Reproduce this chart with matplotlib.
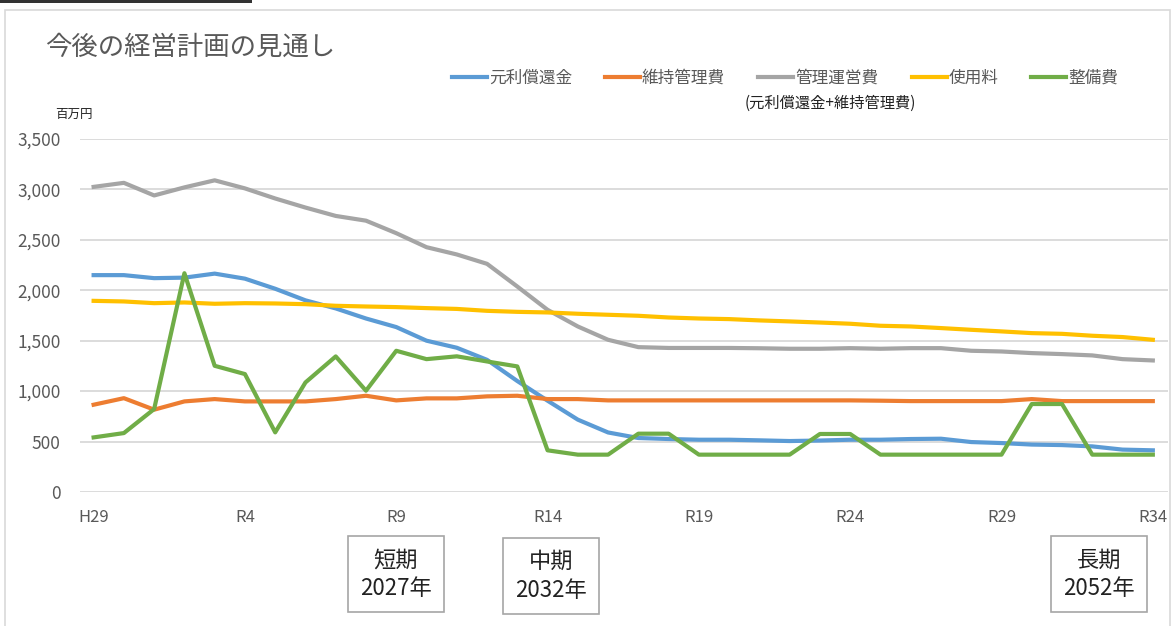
import matplotlib
matplotlib.use("Agg")
import matplotlib.pyplot as plt
from matplotlib.patches import Rectangle

plt.rcParams["font.family"] = ["Noto Sans CJK JP", "DejaVu Sans"]

# H29 (2017) .. R34 (2052)
years = list(range(2017, 2053))
tick_idx = [0, 5, 10, 15, 20, 25, 30, 35]
tick_labels = ["H29", "R4", "R9", "R14", "R19", "R24", "R29", "R34"]
y_ticks = [0, 500, 1000, 1500, 2000, 2500, 3000, 3500]
y_labels = ["0", "500", "1,000", "1,500", "2,000", "2,500", "3,000", "3,500"]

repay = [2150, 2150, 2120, 2125, 2165, 2115, 2015, 1900, 1820, 1720, 1635, 1500,
         1430, 1310, 1100, 905, 717, 590, 535, 525, 518, 518, 512, 505,
         510, 518, 518, 525, 528, 495, 485, 470, 465, 452, 420, 413]
maint = [865, 930, 816, 898, 921, 898, 898, 898, 921, 954, 908, 928,
         928, 948, 954, 921, 921, 908, 908, 908, 908, 908, 908, 908,
         908, 908, 905, 901, 901, 901, 901, 921, 901, 901, 901, 901]
mgmt = [3025, 3065, 2940, 3020, 3090, 3010, 2910, 2820, 2737, 2690, 2566, 2427,
        2355, 2262, 2037, 1806, 1641, 1509, 1436, 1428, 1428, 1428, 1425, 1420,
        1420, 1426, 1420, 1426, 1426, 1400, 1393, 1377, 1367, 1354, 1317, 1304]
fee = [1895, 1889, 1872, 1879, 1866, 1872, 1869, 1862, 1846, 1839, 1833, 1823,
       1815, 1796, 1786, 1780, 1767, 1757, 1747, 1730, 1720, 1714, 1701, 1691,
       1680, 1668, 1648, 1641, 1625, 1608, 1592, 1575, 1568, 1549, 1536, 1509]
maintenance = [541, 584, 822, 2169, 1251, 1169, 591, 1086, 1344, 1004, 1400, 1317,
               1345, 1294, 1245, 413, 370, 370, 578, 578, 370, 370, 370, 370,
               575, 575, 370, 370, 370, 370, 370, 872, 872, 370, 370, 370]

series = [
    ("元利償還金", repay, "#5B9BD5"),
    ("維持管理費", maint, "#ED7D31"),
    ("管理運営費", mgmt, "#A5A5A5"),
    ("使用料", fee, "#FFC000"),
    ("整備費", maintenance, "#70AD47"),
]

fig = plt.figure(figsize=(11.73, 6.26), dpi=100)
ax = fig.add_axes([0.0682, 0.2141, 0.9275, 0.5639])

x = list(range(len(years)))
for name, vals, color in series:
    ax.plot(x, vals, color=color, linewidth=3, label=name, zorder=3)

ax.set_xlim(-0.45, 35.5)
ax.set_ylim(0, 3500)
ax.set_yticks(y_ticks)
ax.set_yticklabels(y_labels)
ax.set_xticks(tick_idx)
ax.set_xticklabels(tick_labels)
ax.tick_params(axis="y", length=0, pad=14, labelsize=12.5, labelcolor="#595959")
ax.tick_params(axis="x", length=0, pad=12, labelsize=12, labelcolor="#595959")
ax.grid(axis="y", color="#D9D9D9", linewidth=1.3, zorder=0)
for s in ax.spines.values():
    s.set_visible(False)

leg = ax.legend(loc="lower left", bbox_to_anchor=(0.336, 1.13), ncol=5,
                frameon=False, fontsize=12, handlelength=2.1,
                columnspacing=2.0, handletextpad=0.1, borderaxespad=0)
for t in leg.get_texts():
    t.set_color("#595959")

fig.text(0.635, 0.835, "(元利償還金+維持管理費)", fontsize=11,
         ha="left", va="center", color="#222222")
fig.text(0.038, 0.925, "今後の経営計画の見通し", fontsize=19,
         ha="left", va="center", color="#595959")
fig.text(0.047, 0.818, "百万円", fontsize=9, ha="left", va="center",
         color="#222222")

box = dict(boxstyle="square,pad=0.55", facecolor="white", edgecolor="#A6A6A6",
           linewidth=1.2)
fig.text(0.3376, 0.083, "短期\n2027年", fontsize=16, ha="center", va="center",
         color="#222222", bbox=box, linespacing=1.3)
fig.text(0.470, 0.080, "中期\n2032年", fontsize=16, ha="center", va="center",
         color="#222222", bbox=box, linespacing=1.3)
fig.text(0.937, 0.083, "長期\n2052年", fontsize=16, ha="center", va="center",
         color="#222222", bbox=box, linespacing=1.3)

# outer chart frame and the dark bar at the top-left
fig.patches.append(Rectangle((5 / 1173, -0.01), 1165 / 1173, 1 - 10 / 626 + 0.01,
                             transform=fig.transFigure, fill=False,
                             edgecolor="#D9D9D9", linewidth=1.2))
fig.patches.append(Rectangle((0, 1 - 3 / 626), 252 / 1173, 3 / 626,
                             transform=fig.transFigure, facecolor="#333333",
                             edgecolor="none"))

fig.savefig("out.png", dpi=100)
plt.close(fig)
